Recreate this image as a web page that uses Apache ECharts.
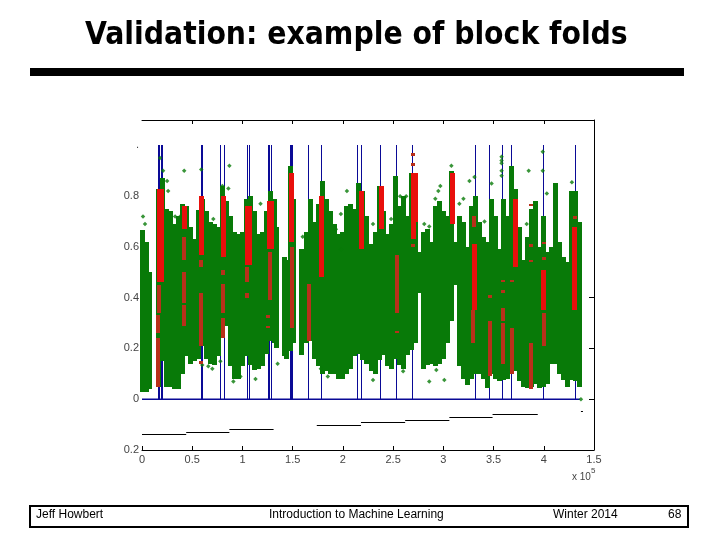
<!DOCTYPE html>
<html>
<head>
<meta charset="utf-8">
<style>
  html, body { margin: 0; padding: 0; background: #fff; }
  #main { width: 720px; height: 540px; }
</style>
<script src="https://cdn.jsdelivr.net/npm/echarts@6/dist/echarts.min.js"></script>
</head>
<body>
<div id="main"></div>
<script>
// tick labels as printed in the slide (scan lost the minus sign, 4.5 reads as 1.5)
var xTicks = ['0', '0.5', '1', '1.5', '2', '2.5', '3', '3.5', '4', '1.5'];
var yTicks = { '-0.2': '0.2', '0': '0', '0.2': '0.2', '0.4': '0.4', '0.6': '0.6', '0.8': '0.8', '1': '.' };

var greenX = [
  0, .04, .07, .12, .16, .20, .24, .28, .32, .36,
  .40, .44, .48, .52, .56, .60, .64, .68, .72, .76,
  .80, .84, .88, .92, .96, 1.00, 1.04, 1.08, 1.12, 1.16,
  1.20, 1.24, 1.28, 1.32, 1.34, 1.42, 1.44, 1.48, 1.51, 1.56,
  1.59, 1.64, 1.68, 1.72, 1.76, 1.80, 1.84, 1.88, 1.92, 1.96,
  2.00, 2.04, 2.08, 2.12, 2.16, 2.20, 2.24, 2.28, 2.32, 2.36,
  2.40, 2.44, 2.48, 2.52, 2.56, 2.60, 2.64, 2.68, 2.72, 2.76,
  2.80, 2.84, 2.88, 2.92, 2.96, 3.00, 3.04, 3.08, 3.12, 3.16,
  3.20, 3.24, 3.28, 3.32, 3.36, 3.40, 3.44, 3.48, 3.52, 3.56,
  3.60, 3.64, 3.68, 3.72, 3.76, 3.80, 3.84, 3.88, 3.92, 3.96,
  4.00, 4.04, 4.08, 4.12, 4.16, 4.20, 4.24, 4.28, 4.32, 4.36
];
var greenHigh = [
  .665, .62, .50, null, .83, .87, .75, .74, .69, .72,
  .77, .76, .68, .63, .745, .79, .74, .70, .69, .68,
  .84, .78, .72, .66, .65, .66, .79, .80, .74, .65,
  .66, .74, .82, .79, .68, .56, .55, .92, .79, null,
  .59, .66, .79, .70, .77, .86, .79, .74, .69, .65,
  .66, .76, .77, .75, .85, .82, .72, .61, .66, .84,
  .74, .65, .69, .88, .76, .80, .72, .89, .86, .58,
  .66, .67, .62, .76, .78, .74, .72, .90, .62, .72,
  .70, .60, .76, .80, .70, .64, .62, .79, .72, .59,
  .79, .72, .92, .83, .68, .55, .64, .75, .78, .60,
  .72, .58, .60, .85, .62, .56, .54, .82, .82, .70
];
var greenLow = [
  .03, .03, .04, null, .05, .15, .05, .05, .04, .04,
  .10, .17, .14, .15, .16, .21, .16, .14, .135, .17,
  .25, .29, .13, .08, .08, .13, .17, .135, .115, .12,
  .13, .18, .23, .22, .20, .17, .16, .19, .22, null,
  .175, .22, .23, .16, .13, .10, .11, .10, .10, .08,
  .08, .10, .12, .17, .18, .155, .14, .11, .10, .155,
  .175, .13, .12, .16, .135, .12, .175, .195, .22, .42,
  .12, .135, .14, .13, .14, .16, .22, .31, .45, .13,
  .08, .055, .08, .10, .10, .08, .045, .10, .08, .07,
  .075, .08, .10, .11, .07, .05, .045, .05, .06, .045,
  .05, .06, .14, .14, .10, .075, .05, .075, .07, .05
];

// green strays outside the main cloud [x, y]
var greenStray = [
  [.18, .95], [.21, .90], [.25, .86], [.26, .82], [.42, .90], [.01, .72], [.03, .69],
  [.87, .92], [.59, .905], [.80, .84], [.86, .83], [1.18, .77], [.33, .72], [.38, .72],
  [1.60, .64], [2.04, .82], [1.98, .73], [1.93, .67], [1.98, .59], [.71, .71],
  [3.85, .90], [3.58, .955], [3.58, .94], [3.58, .93], [3.58, .90], [3.58, .88],
  [3.99, .975], [3.99, .90], [3.08, .92], [3.31, .875], [3.26, .86], [2.95, .82],
  [2.97, .84], [2.92, .79], [3.16, .77], [3.20, .79], [2.57, .80], [2.63, .80],
  [2.48, .71], [2.30, .69], [3.48, .85], [3.41, .70], [4.03, .81], [4.28, .855],
  [2.81, .69], [2.86, .68], [3.83, .69],
  [.60, .135], [.66, .13], [.70, .12], [.78, .15], [.91, .07], [.98, .09], [1.13, .08],
  [1.85, .09], [1.78, .12], [1.35, .14], [2.30, .076], [2.60, .11], [2.86, .07],
  [2.93, .115], [3.01, .076], [4.37, 0]
];

// red runs [x, low, high]
var redBright = [
  [.17, .46, .83], [.19, .46, .83], [.42, .67, .76], [.59, .57, .80], [.81, .56, .80],
  [1.05, .53, .76], [1.07, .53, .76], [1.27, .59, .78], [1.29, .59, .78], [1.49, .62, .89],
  [1.79, .48, .80], [2.19, .59, .82], [2.38, .67, .84], [2.70, .63, .89], [2.72, .70, .89],
  [3.09, .69, .89], [3.31, .35, .61], [3.72, .52, .79], [4.00, .35, .51], [4.31, .35, .68]
];
var redDim = [
  [.17, .34, .45], [.16, .26, .33], [.16, .05, .24], [.42, .55, .64], [.42, .38, .50],
  [.42, .29, .37], [.59, .52, .55], [.59, .21, .42], [.59, .14, .15], [.81, .49, .51],
  [.81, .34, .455], [.81, .24, .32], [1.05, .46, .52], [1.05, .40, .42], [1.27, .39, .58],
  [1.25, .32, .33], [1.25, .28, .29], [1.49, .28, .60], [1.66, .23, .455],
  [2.54, .34, .57], [2.54, .26, .27], [2.70, .60, .61], [2.70, .92, .93], [2.70, .96, .97],
  [3.31, .68, .72], [3.30, .22, .35], [3.46, .09, .31], [3.46, .40, .41],
  [3.59, .14, .30], [3.59, .31, .36], [3.59, .42, .43], [3.59, .46, .47],
  [3.68, .10, .28], [3.68, .46, .47], [3.87, .04, .22], [3.87, .54, .55], [3.87, .60, .61],
  [3.87, .76, .77], [4.00, .21, .34], [4.00, .55, .56], [4.00, .61, .62], [4.31, .35, .39], [4.31, .71, .72]
];

// blue fold markers, from 0 to 1
var foldX = [
  .16, .17, .195, .205, .59, .60, .783, .823, 1.047, 1.055, 1.07, 1.257, 1.273, 1.293,
  1.48, 1.49, 1.50, 1.653, 1.783, 2.147, 2.183, 2.373, 2.533, 2.693, 3.323, 3.463,
  3.593, 3.683, 3.993, 4.313
];
var baseline = [[0, 0], [4.36, 0]];

// black steps under the data [x0, x1, y]
var steps = [
  [0, .44, -.138], [.44, .87, -.13], [.87, 1.31, -.118], [1.74, 2.18, -.103],
  [2.18, 2.62, -.09], [2.62, 3.06, -.08], [3.06, 3.49, -.07], [3.49, 3.94, -.059], [4.37, 4.39, -.047]
];

// snapped to whole pixels so neighbouring columns leave no seams
function vbar(color, width) {
  return function (params, api) {
    var lo = api.coord([api.value(0), api.value(1)]);
    var hi = api.coord([api.value(0), api.value(2)]);
    var top = Math.round(hi[1]);
    return {
      type: 'rect',
      shape: { x: Math.round(lo[0] - width / 2), y: top, width: width, height: Math.round(lo[1]) - top },
      style: { fill: color }
    };
  };
}

var greenRows = [];
greenX.forEach(function (x, i) {
  if (greenHigh[i] !== null) greenRows.push([x, greenLow[i], greenHigh[i]]);
});

var chart = echarts.init(document.getElementById('main'));
chart.setOption({
  animation: false,
  backgroundColor: '#fff',
  title: {
    text: 'Validation: example of block folds',
    left: 80,
    top: 15,
    textStyle: { fontFamily: 'DejaVu Sans Condensed', fontWeight: 'bold', fontSize: 31.5, color: '#000' }
  },
  grid: { left: 142, top: 120, width: 452, height: 330 },
  xAxis: [{
    type: 'value', min: 0, max: 4.5, interval: .5,
    splitLine: { show: false },
    axisLine: { onZero: false, lineStyle: { color: '#000', width: 1 } },
    axisTick: { inside: true, length: 4, lineStyle: { color: '#000' } },
    axisLabel: {
      margin: 4, color: '#444', fontFamily: 'Liberation Sans', fontSize: 11,
      formatter: function (v) { return xTicks[Math.round(v * 2)]; }
    }
  }, {
    type: 'value', position: 'top', min: 0, max: 4.5, interval: .5,
    splitLine: { show: false },
    axisLine: { onZero: false, lineStyle: { color: '#000', width: 1 } },
    axisTick: { inside: true, length: 4, lineStyle: { color: '#000' }, customValues: [.5, 1, 1.5, 2, 2.5, 3, 3.5, 4] },
    axisLabel: { show: false }
  }],
  yAxis: [{
    type: 'value', min: -.2, max: 1.1, interval: .2,
    splitLine: { show: false },
    axisLine: { show: false },
    axisTick: { show: false },
    axisLabel: {
      margin: 3, color: '#444', fontFamily: 'Liberation Sans', fontSize: 11,
      formatter: function (v) { return yTicks[String(Math.round(v * 10) / 10)] || ''; }
    }
  }, {
    type: 'value', position: 'right', min: -.2, max: 1.1, interval: .2,
    splitLine: { show: false },
    axisLine: { show: true, onZero: false, lineStyle: { color: '#000', width: 1 } },
    axisTick: { inside: true, length: 5, lineStyle: { color: '#000' }, customValues: [0, .2, .4] },
    axisLabel: { show: false }
  }],
  series: [
    {
      type: 'custom', clip: false, renderItem: vbar('#0a0a96', 1),
      encode: { x: 0, y: [1, 2] },
      data: foldX.map(function (x) { return [x, 0, 1]; }), z: 1
    },
    {
      type: 'line', data: baseline, symbol: 'none', z: 1,
      lineStyle: { color: '#0a0a96', width: 1.5 }
    },
    {
      type: 'custom', clip: false, renderItem: vbar('#087a08', 5),
      encode: { x: 0, y: [1, 2] },
      data: greenRows, z: 2
    },
    {
      type: 'scatter', data: greenStray, symbol: 'diamond', symbolSize: 4.5, z: 3,
      itemStyle: { color: '#087a08' }
    },
    {
      type: 'custom', clip: false, renderItem: vbar('#b8301a', 4),
      encode: { x: 0, y: [1, 2] },
      data: redDim, z: 4
    },
    {
      type: 'custom', clip: false, renderItem: vbar('#e8100c', 5),
      encode: { x: 0, y: [1, 2] },
      data: redBright, z: 5
    },
    {
      type: 'custom', clip: false,
      renderItem: function (params, api) {
        var a = api.coord([api.value(0), api.value(2)]);
        var b = api.coord([api.value(1), api.value(2)]);
        var y = Math.round(a[1]) + .5;
        return {
          type: 'line',
          shape: { x1: a[0], y1: y, x2: b[0], y2: y },
          style: { stroke: '#000', lineWidth: 1 }
        };
      },
      encode: { x: [0, 1], y: 2 },
      data: steps, z: 3
    }
  ],
  graphic: [
    { type: 'rect', shape: { x: 30, y: 68, width: 654, height: 8 }, style: { fill: '#000' } },
    { type: 'rect', shape: { x: 30, y: 506, width: 658, height: 21 }, style: { fill: 'none', stroke: '#000', lineWidth: 2 } },
    { type: 'text', x: 36, y: 509, style: { text: 'Jeff Howbert', fontFamily: 'Liberation Sans', fontSize: 12, fill: '#000' } },
    { type: 'text', x: 269, y: 509, style: { text: 'Introduction to Machine Learning', fontFamily: 'Liberation Sans', fontSize: 12, fill: '#000' } },
    { type: 'text', x: 553, y: 509, style: { text: 'Winter 2014', fontFamily: 'Liberation Sans', fontSize: 12, fill: '#000' } },
    { type: 'text', x: 668, y: 509, style: { text: '68', fontFamily: 'Liberation Sans', fontSize: 12, fill: '#000' } },
    { type: 'text', x: 572, y: 472, style: { text: 'x 10', fontFamily: 'Liberation Sans', fontSize: 10, fill: '#444' } },
    { type: 'text', x: 591, y: 467, style: { text: '5', fontFamily: 'Liberation Sans', fontSize: 8, fill: '#444' } }
  ]
});
</script>
</body>
</html>
